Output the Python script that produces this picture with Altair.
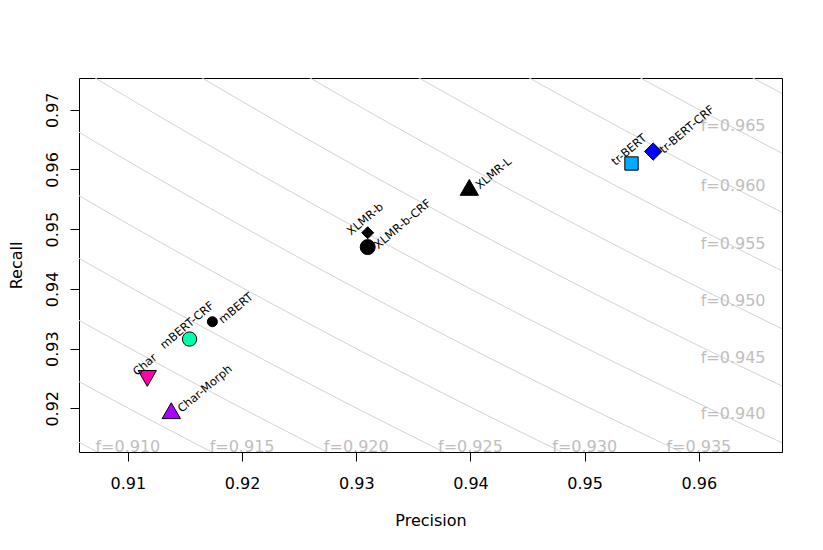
import altair as alt
import pandas as pd
import numpy as np

# ---- data ----
models = ["Char", "Char-Morph", "mBERT", "mBERT-CRF", "XLMR-b", "XLMR-b-CRF",
          "XLMR-L", "tr-BERT", "tr-BERT-CRF"]
precision = [0.9117, 0.9138, 0.9174, 0.9154, 0.9310, 0.9310, 0.9399, 0.9541, 0.9560]
recall = [0.9250, 0.9196, 0.9345, 0.9316, 0.9494, 0.9470, 0.9570, 0.9610, 0.9630]
shapes = ["triangle-down", "triangle-up", "circle", "circle", "diamond", "circle",
          "triangle-up", "square", "diamond"]
fills = ["#FF00AA", "#AA00FF", "#000000", "#00FFAA", "#000000", "#000000",
         "#000000", "#00AAFF", "#0000FF"]
sizes = [335, 335, 100, 205, 144, 225, 335, 178, 300]
label_side = ["top", "right", "right", "top", "top", "right", "right", "top", "right"]

# F-score iso-lines
f_levels = [0.910, 0.915, 0.920, 0.925, 0.930, 0.935, 0.940, 0.945,
            0.950, 0.955, 0.960, 0.965, 0.970]

# iso-line labels
bottom_labels = ["f=0.910", "f=0.915", "f=0.920", "f=0.925", "f=0.930", "f=0.935"]
bottom_x = [0.91, 0.92, 0.93, 0.94, 0.95, 0.96]
bottom_y = [0.9135] * 6
right_labels = ["f=0.940", "f=0.945", "f=0.950", "f=0.955", "f=0.960", "f=0.965"]
right_x = [0.9630] * 6
right_y = [0.9190, 0.9285, 0.9380, 0.9476, 0.9573, 0.9672]

x_ticks = [0.91, 0.92, 0.93, 0.94, 0.95, 0.96]
y_ticks = [0.92, 0.93, 0.94, 0.95, 0.96, 0.97]

x_domain = [0.90572, 0.96728]
y_domain = [0.91268, 0.97532]

# ---- tables ----
pts = pd.DataFrame({"model": models, "P": precision, "R": recall, "shape": shapes,
                    "fill": fills, "size": sizes, "side": label_side})

p_grid = np.linspace(0.904, 0.969, 60)
iso_rows = []
for f in f_levels:
    for p in p_grid:
        iso_rows.append({"f": f, "P": p, "R": f * p / (2 * p - f)})
iso = pd.DataFrame(iso_rows)

flab = pd.DataFrame({"label": bottom_labels + right_labels,
                     "P": bottom_x + right_x, "R": bottom_y + right_y})

FONT = "DejaVu Sans"

xenc = alt.X("P:Q", scale=alt.Scale(domain=x_domain, nice=False, zero=False),
             axis=alt.Axis(values=x_ticks, format=".2f", title="Precision", grid=False,
                           domain=False, tickSize=9, tickColor="black", labelColor="black",
                           labelFont=FONT, labelFontSize=16, labelPadding=14,
                           labelFlush=False, labelOverlap=False,
                           titleFont=FONT, titleFontSize=16, titleFontWeight="normal",
                           titleColor="black", titleX=351.5, titleY=73,
                           titleBaseline="alphabetic", titleAlign="center"))
yenc = alt.Y("R:Q", scale=alt.Scale(domain=y_domain, nice=False, zero=False),
             axis=alt.Axis(values=y_ticks, format=".2f", title="Recall", grid=False,
                           domain=False, tickSize=9, tickColor="black", labelColor="black",
                           labelFont=FONT, labelFontSize=16, labelPadding=10,
                           labelAngle=270, labelAlign="center", labelBaseline="bottom",
                           labelFlush=False, labelOverlap=False,
                           titleFont=FONT, titleFontSize=16, titleFontWeight="normal",
                           titleColor="black", titleAngle=270, titleX=-58, titleY=187,
                           titleBaseline="alphabetic", titleAlign="center"))

lines = alt.Chart(iso).mark_line(color="#D3D3D3", strokeWidth=1, clip=True).encode(
    x=xenc, y=yenc, detail="f:N", order="P:Q")

flabels = alt.Chart(flab).mark_text(font=FONT, fontSize=16, color="#BEBEBE",
                                    align="center", baseline="middle").encode(
    x="P:Q", y="R:Q", text="label:N")

points = alt.Chart(pts).mark_point(filled=True, stroke="black", strokeWidth=1,
                                   opacity=1, fillOpacity=1).encode(
    x="P:Q", y="R:Q",
    shape=alt.Shape("shape:N", scale=None),
    fill=alt.Fill("fill:N", scale=None),
    size=alt.Size("size:Q", scale=None))

right_lab = alt.Chart(pts).transform_filter(alt.datum.side == "right").mark_text(
    font=FONT, fontSize=11.5, color="black", angle=320, align="left",
    baseline="middle", dx=6.5, dy=5.5).encode(x="P:Q", y="R:Q", text="model:N")

top_lab = alt.Chart(pts).transform_filter(alt.datum.side == "top").mark_text(
    font=FONT, fontSize=11.5, color="black", angle=320, align="center",
    baseline="alphabetic", dx=7.0, dy=-8.4).encode(x="P:Q", y="R:Q", text="model:N")

chart = alt.layer(lines, flabels, points, right_lab, top_lab).properties(
    width=703, height=374,
    autosize=alt.AutoSizeParams(type="none"),
    padding={"left": 71, "top": 70, "right": 33, "bottom": 90},
    background="white",
).configure_view(stroke="black", strokeWidth=1)

chart.save("out.html", embed_options={"renderer": "svg", "actions": False})
